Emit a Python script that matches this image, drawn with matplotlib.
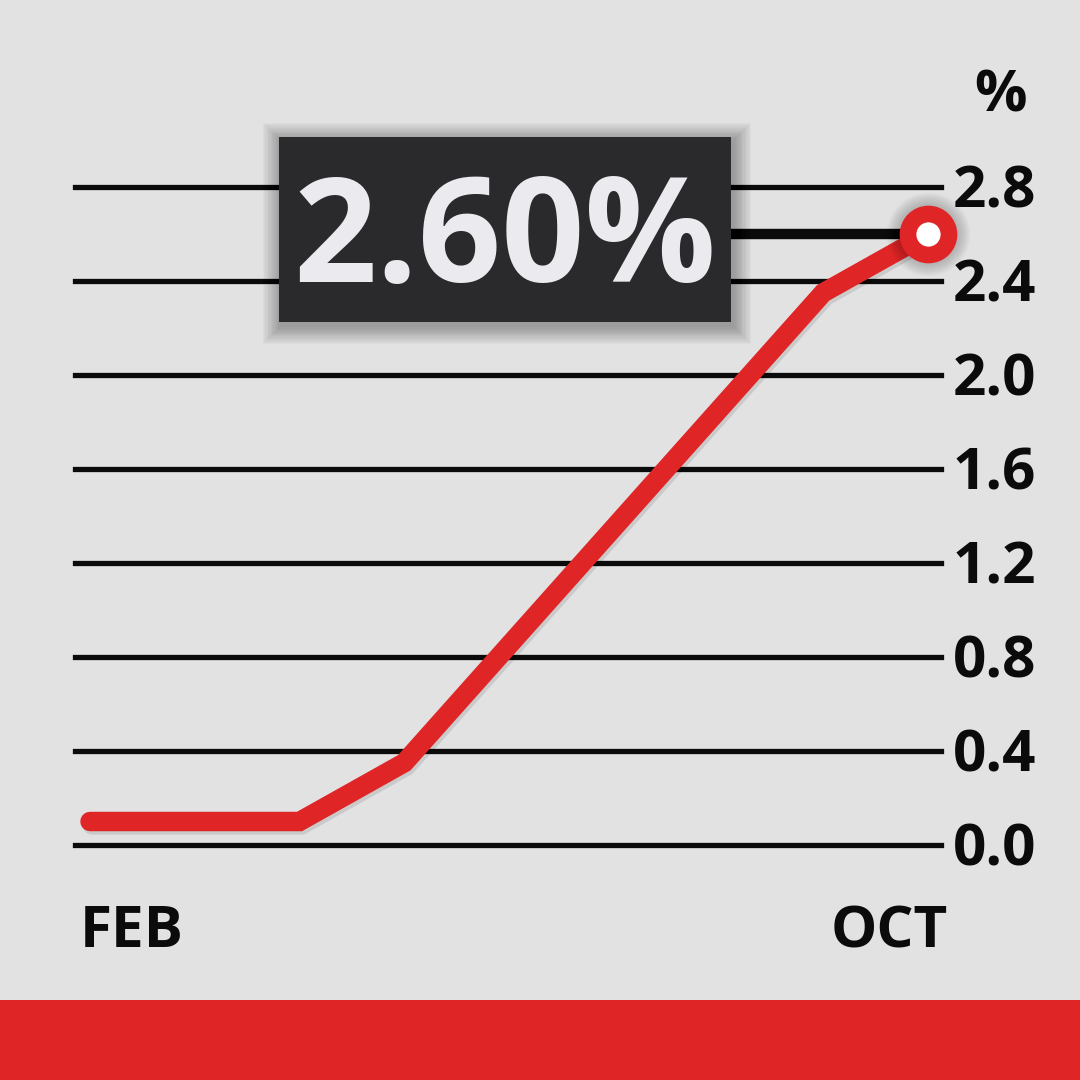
import matplotlib
matplotlib.use("Agg")
import matplotlib.pyplot as plt
import matplotlib.patheffects as pe
from matplotlib.patches import Rectangle
from matplotlib.transforms import blended_transform_factory, offset_copy


months = ["FEB", "MAR", "APR", "MAY", "JUN", "JUL", "AUG", "SEP", "OCT"]
rate = [0.1, 0.1, 0.1, 0.35, 0.85, 1.35, 1.85, 2.35, 2.6]
y_ticks = [0.0, 0.4, 0.8, 1.2, 1.6, 2.0, 2.4, 2.8]
tick_labels = ["0.0", "0.4", "0.8", "1.2", "1.6", "2.0", "2.4", "2.8"]
headline = "2.60%"

BG = "#e2e2e2"
RED = "#e02527"
INK = "#0b0b0b"
BOX = "#2a2a2c"
FONT = "Open Sans"

W = 1080
PX = 1.0 / W

fig = plt.figure(figsize=(10.8, 10.8), dpi=100, facecolor=BG)
ax = fig.add_axes([0, 0, 1, 1])
ax.set_facecolor(BG)
ax.set_axis_off()

# map data so Feb sits at x=90px, Oct at 928px; 0.0 at 845px, 2.8 at 187px
x_scale = (928 - 90) / (len(months) - 1)
y_scale = (845 - 187) / 2.8
ax.set_xlim(-90 / x_scale, (W - 90) / x_scale)
ax.set_ylim(-(W - 845) / y_scale, 845 / y_scale)

# grid
for v in y_ticks:
    ax.axhline(v, xmin=75 * PX, xmax=941 * PX, color=INK, lw=3.8, zorder=2)

# tick labels on the right
tr = blended_transform_factory(ax.transAxes, ax.transData)
tr_lab = offset_copy(tr, fig=fig, y=-15, units="points")
for v, lab in zip(y_ticks, tick_labels):
    ax.text(953 * PX, v, lab, transform=tr_lab, ha="left", va="baseline",
            fontsize=42, fontweight="bold", family=FONT, color=INK)
ax.text(1000 * PX, 1 - 112 * PX, "%", transform=ax.transAxes, ha="center",
        va="baseline", fontsize=42, fontweight="bold", family=FONT, color=INK)

# month labels
ax.text(80 * PX, 1 - 947 * PX, months[0], transform=ax.transAxes, ha="left",
        va="baseline", fontsize=42, fontweight="bold", family=FONT, color=INK)
ax.text(948 * PX, 1 - 947 * PX, months[-1], transform=ax.transAxes, ha="right",
        va="baseline", fontsize=42, fontweight="bold", family=FONT, color=INK)

# leader line from box to last point
x = list(range(len(months)))
ax.plot([x[-1] - 2.5, x[-1]], [rate[-1], rate[-1]], color=INK, lw=7.5,
        solid_capstyle="butt", zorder=3)

# red line with a faint shadow
ax.plot(x, rate, color=RED, lw=14, solid_capstyle="round",
        solid_joinstyle="miter", zorder=5,
        path_effects=[pe.SimpleLineShadow(offset=(1.5, -2.5), alpha=0.1,
                                          shadow_color="#000000"),
                      pe.Normal()])

# soft shadow + marker on last value
for i in range(10):
    ax.plot(x[-1], rate[-1], "o", ms=44 + i * 1.8, color="black",
            alpha=0.018, mew=0, zorder=6)
ax.plot(x[-1], rate[-1], "o", ms=29.5, mfc="white", mec=RED, mew=12,
        zorder=7)

# headline box with soft shadow
bx, by, bw, bh = 279 * PX, 1 - 322 * PX, 452 * PX, 185 * PX
for i in range(14):
    g = (i + 1) * 1.3 * PX
    ax.add_patch(Rectangle((bx - g + 2 * PX, by - g - 4 * PX), bw + 2 * g, bh + 2 * g,
                           transform=ax.transAxes, facecolor="black",
                           edgecolor="none", alpha=0.022, zorder=8))
ax.add_patch(Rectangle((bx, by), bw, bh, transform=ax.transAxes,
                       facecolor=BOX, edgecolor="none", zorder=9))
ax.text(505 * PX, 1 - 282 * PX, headline, transform=ax.transAxes,
        ha="center", va="baseline", fontsize=105, fontweight="bold",
        family=FONT, color="#ebebef", zorder=10)

# red footer band
fig.add_artist(Rectangle((0, 0), 1, 80 * PX, transform=fig.transFigure,
                         facecolor=RED, edgecolor="none"))

fig.savefig("out.png", dpi=100, facecolor=BG)
